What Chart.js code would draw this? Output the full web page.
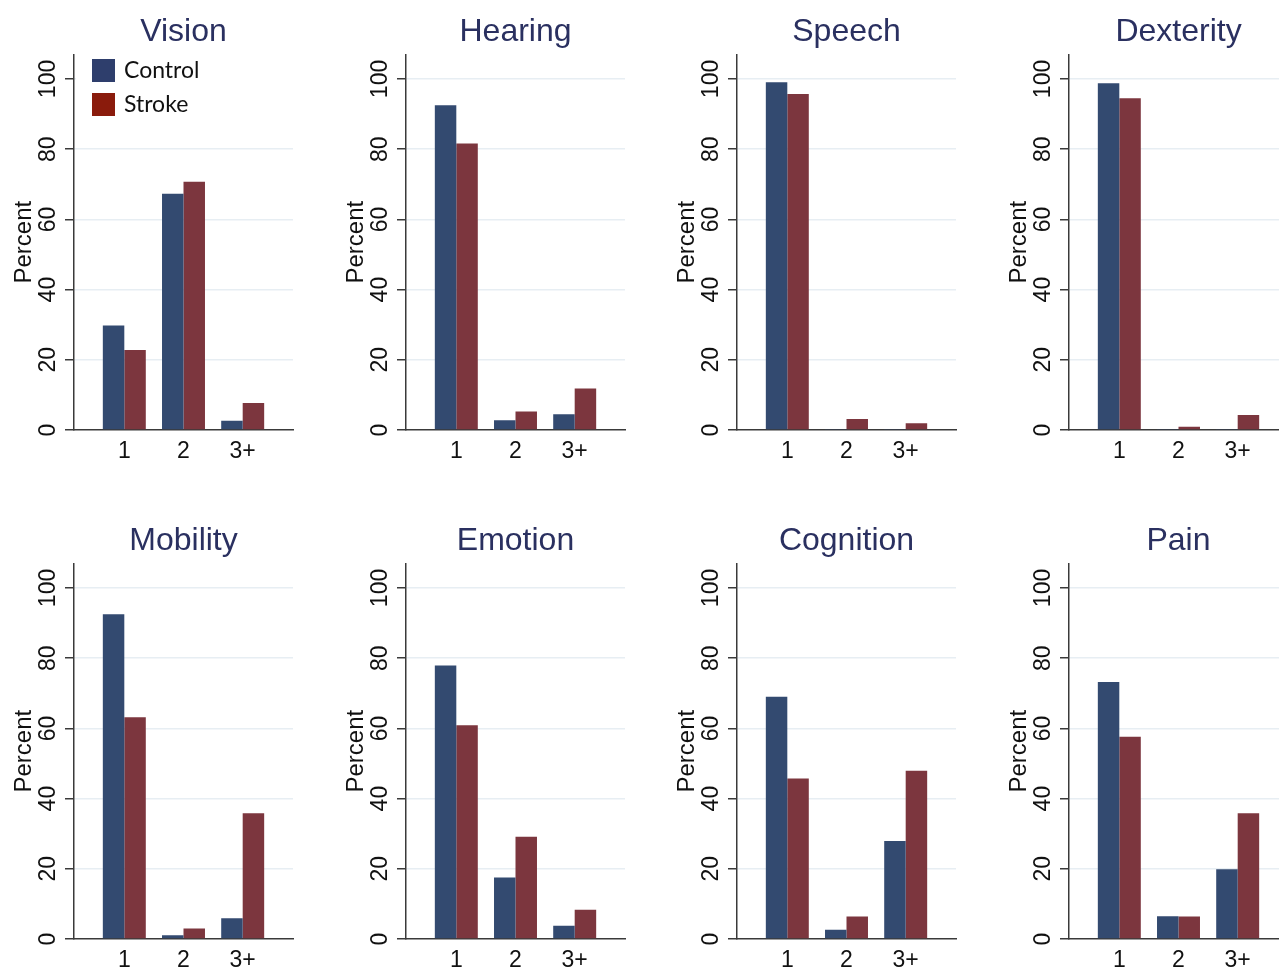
<!DOCTYPE html>
<html>
<head>
<meta charset="utf-8">
<script src="https://cdn.jsdelivr.net/npm/chart.js@4"></script>
<style>
html,body{margin:0;padding:0;background:#fff;overflow:hidden;width:1279px;height:970px;}
canvas{position:absolute;}
</style>
</head>
<body>
<script>
// ---- data ----
const panelTitles = ['Vision','Hearing','Speech','Dexterity','Mobility','Emotion','Cognition','Pain'];
const categories = ['1','2','3+'];
const categoryPositions = [1,2,3];
const seriesNames = ['Control','Stroke'];
const yTickValues = [0,20,40,60,80,100];

const visionControl    = [29.8, 67.3, 2.6];
const visionStroke     = [22.8, 70.7, 7.7];
const hearingControl   = [92.5, 2.8, 4.5];
const hearingStroke    = [81.6, 5.3, 11.8];
const speechControl    = [99.1, 0.3, 0.3];
const speechStroke     = [95.7, 3.1, 1.9];
const dexterityControl = [98.8, 0.3, 0.3];
const dexterityStroke  = [94.5, 0.9, 4.3];
const mobilityControl  = [92.5, 1.1, 5.9];
const mobilityStroke   = [63.2, 3.0, 35.8];
const emotionControl   = [77.9, 17.5, 3.8];
const emotionStroke    = [60.9, 29.1, 8.3];
const cognitionControl = [69.0, 2.6, 27.9];
const cognitionStroke  = [45.7, 6.4, 47.9];
const painControl      = [73.2, 6.5, 19.9];
const painStroke       = [57.6, 6.4, 35.8];

const controlSeries = [visionControl, hearingControl, speechControl, dexterityControl,
                       mobilityControl, emotionControl, cognitionControl, painControl];
const strokeSeries  = [visionStroke, hearingStroke, speechStroke, dexterityStroke,
                       mobilityStroke, emotionStroke, cognitionStroke, painStroke];

// ---- styles ----
const CONTROL_BAR = '#334a70';
const STROKE_BAR = '#7c363e';
const CONTROL_KEY = '#2e3e6c';
const STROKE_KEY = '#8a1b0c';
const AXIS = '#3a3a3a';
const GRID = '#e7eef3';
const TITLE = '#2a3060';
const TEXT = '#111';

const rotatedYTicks = {
  id: 'rotatedYTicks',
  afterDraw(chart) {
    const s = chart.scales.y;
    const ctx = chart.ctx;
    ctx.save();
    ctx.font = '23px "Liberation Sans", Arial, sans-serif';
    ctx.fillStyle = TEXT;
    ctx.textAlign = 'center';
    ctx.textBaseline = 'alphabetic';
    s.ticks.forEach(t => {
      const y = s.getPixelForValue(t.value);
      ctx.save();
      ctx.translate(s.right - 19, y);
      ctx.rotate(-Math.PI / 2);
      ctx.fillText(String(t.value), 0, 0);
      ctx.restore();
    });
    ctx.restore();
  }
};

const insetLegend = {
  id: 'insetLegend',
  afterDraw(chart, args, opts) {
    if (!opts.show) return;
    const ctx = chart.ctx;
    const a = chart.chartArea;
    ctx.save();
    ctx.fillStyle = '#fff';
    ctx.fillRect(a.left + 2, 56, a.right - a.left - 2, 66);
    const keys = [CONTROL_KEY, STROKE_KEY];
    const tops = [59, 93];
    ctx.font = '23px Lato, "Open Sans", sans-serif';
    ctx.textBaseline = 'middle';
    ctx.textAlign = 'left';
    chart.data.datasets.forEach((ds, i) => {
      ctx.fillStyle = keys[i];
      ctx.fillRect(a.left + 18, tops[i], 23, 23);
      ctx.fillStyle = TEXT;
      ctx.fillText(ds.label, a.left + 50, tops[i] + 12);
    });
    ctx.restore();
  }
};

const COL_STEP = 331.7, ROW_STEP = 509;

panelTitles.forEach((name, p) => {
  const c = p % 4, r = Math.floor(p / 4);
  const cv = document.createElement('canvas');
  cv.width = 332; cv.height = 510;
  cv.style.left = Math.round(COL_STEP * c) + 'px';
  cv.style.top = (ROW_STEP * r) + 'px';
  document.body.appendChild(cv);

  new Chart(cv, {
    type: 'bar',
    data: {
      datasets: [
        { label: seriesNames[0], data: categoryPositions.map((x, i) => ({ x, y: controlSeries[p][i] })),
          backgroundColor: CONTROL_BAR, borderWidth: 0, categoryPercentage: 0.726, barPercentage: 1 },
        { label: seriesNames[1], data: categoryPositions.map((x, i) => ({ x, y: strokeSeries[p][i] })),
          backgroundColor: STROKE_BAR, borderWidth: 0, categoryPercentage: 0.726, barPercentage: 1 }
      ]
    },
    options: {
      responsive: false,
      animation: false,
      devicePixelRatio: 1,
      layout: { padding: { left: 0, right: 39, top: 0, bottom: 0 } },
      plugins: {
        legend: { display: false },
        tooltip: { enabled: false },
        title: {
          display: true, text: name, color: TITLE, fullSize: false,
          font: { family: '"Liberation Sans", Arial, sans-serif', size: 32, weight: 'normal' },
          padding: { top: 13, bottom: 3 }
        },
        insetLegend: { show: p === 0 }
      },
      scales: {
        x: {
          type: 'linear', min: 0.15, max: 3.85, offset: false,
          grid: { display: false, drawTicks: false, offset: false },
          border: { color: AXIS, width: 1.5 },
          afterBuildTicks: s => { s.ticks = categoryPositions.map(v => ({ value: v })); },
          ticks: {
            color: TEXT, padding: 8,
            font: { family: '"Liberation Sans", Arial, sans-serif', size: 23 },
            callback: v => categories[categoryPositions.indexOf(v)]
          },
          afterFit: s => { s.height = 80; }
        },
        y: {
          min: 0, max: 107,
          afterBuildTicks: s => { s.ticks = yTickValues.map(v => ({ value: v })); },
          ticks: { display: false },
          grid: {
            color: ctx => (ctx.tick && ctx.tick.value === 0) ? 'rgba(0,0,0,0)' : GRID,
            lineWidth: 1.5, tickColor: AXIS, tickLength: 9, tickWidth: 1.5
          },
          border: { color: AXIS, width: 1.5 },
          title: {
            display: true, text: 'Percent', color: TEXT,
            font: { family: '"Liberation Sans", Arial, sans-serif', size: 24 },
            padding: { top: 10 }
          },
          afterFit: s => { s.width = 74; }
        }
      }
    },
    plugins: [rotatedYTicks, insetLegend]
  });
});
</script>
</body>
</html>
